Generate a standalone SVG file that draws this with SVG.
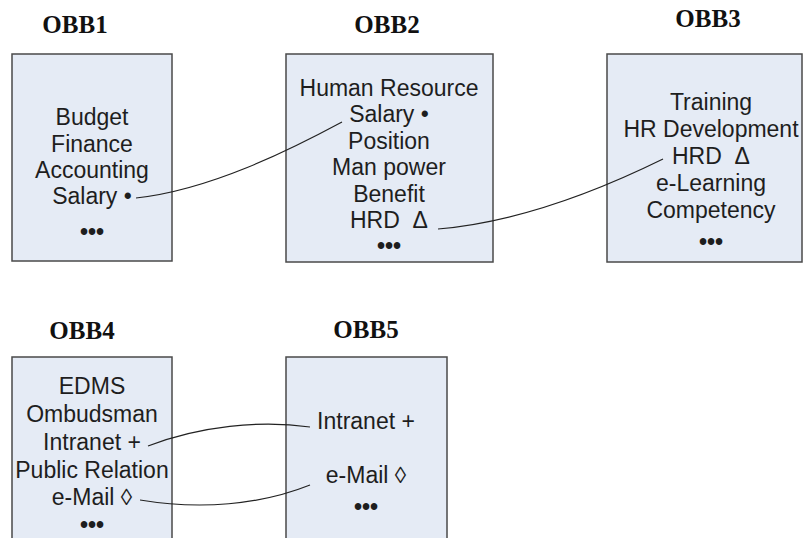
<svg xmlns="http://www.w3.org/2000/svg" width="803" height="538" viewBox="0 0 803 538">
<style>
.box{fill:#e5ebf5;stroke:#4a4a4a;stroke-width:1.5}
.t{font-family:"Liberation Sans",Arial,sans-serif;font-size:23px;fill:#1e1e1e;text-anchor:middle}
.d{font-family:"Liberation Sans",Arial,sans-serif;font-size:23px;font-weight:bold;fill:#1e1e1e;text-anchor:middle}
.h{font-family:"Liberation Serif","Times New Roman",serif;font-size:25px;font-weight:bold;fill:#111;text-anchor:middle}
.c{fill:none;stroke:#222;stroke-width:1.2}
</style>
<rect width="803" height="538" fill="#fff"/>
<g id="OBB1">
<text class="h" x="75" y="33">OBB1</text>
<rect class="box" x="12" y="54" width="160" height="207"/>
<text class="t" x="92" y="125">Budget</text>
<text class="t" x="92" y="152">Finance</text>
<text class="t" x="92" y="178">Accounting</text>
<text class="t" x="92" y="204">Salary •</text>
<text class="d" x="92" y="240">•••</text>
</g>
<g id="OBB2">
<text class="h" x="387" y="33">OBB2</text>
<rect class="box" x="286" y="54" width="207" height="208"/>
<text class="t" x="389" y="96">Human Resource</text>
<text class="t" x="389" y="122">Salary •</text>
<text class="t" x="389" y="149">Position</text>
<text class="t" x="389" y="175">Man power</text>
<text class="t" x="389" y="202">Benefit</text>
<text class="t" x="389" y="228">HRD&#160; Δ</text>
<text class="d" x="389" y="254">•••</text>
</g>
<g id="OBB3">
<text class="h" x="708" y="27">OBB3</text>
<rect class="box" x="607" y="54" width="195" height="208"/>
<text class="t" x="711" y="110">Training</text>
<text class="t" x="711" y="137">HR Development</text>
<text class="t" x="711" y="164">HRD&#160; Δ</text>
<text class="t" x="711" y="191">e-Learning</text>
<text class="t" x="711" y="218">Competency</text>
<text class="d" x="711" y="250">•••</text>
</g>
<g id="OBB4">
<text class="h" x="82" y="339">OBB4</text>
<rect class="box" x="12" y="357" width="160" height="190"/>
<text class="t" x="92" y="394">EDMS</text>
<text class="t" x="92" y="422">Ombudsman</text>
<text class="t" x="92" y="450">Intranet +</text>
<text class="t" x="92" y="478">Public Relation</text>
<text class="t" x="92" y="505">e-Mail ◊</text>
<text class="d" x="92" y="533">•••</text>
</g>
<g id="OBB5">
<text class="h" x="366" y="338">OBB5</text>
<rect class="box" x="286" y="357" width="161" height="190"/>
<text class="t" x="366" y="429">Intranet +</text>
<text class="t" x="366" y="483">e-Mail ◊</text>
<text class="d" x="366" y="515">•••</text>
</g>
<g id="connectors">
<path class="c" d="M136,198 C210,190 290,150 342,122"/>
<path class="c" d="M438,229 C520,222 600,190 663,159"/>
<path class="c" d="M148,446 C200,426 260,420 310,427"/>
<path class="c" d="M140,500 C200,510 260,505 310,485"/>
</g>
</svg>
